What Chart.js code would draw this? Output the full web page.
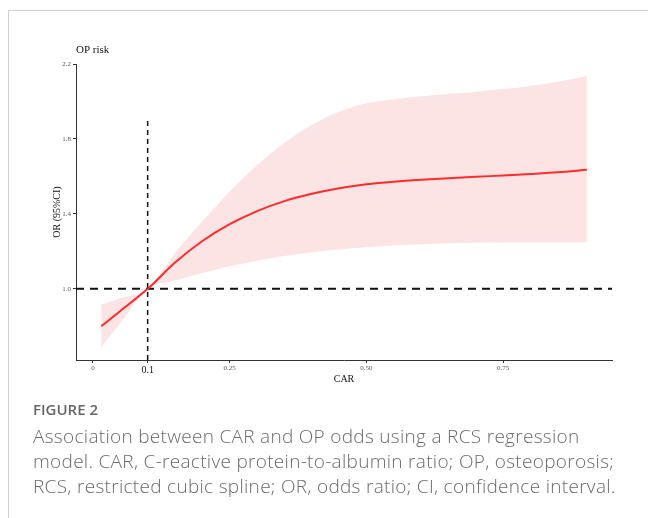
<!DOCTYPE html>
<html lang="en">
<head>
    <meta charset="UTF-8">
    <title>Figure 2 - RCS curve of CAR and OP risk</title>
    <script src="https://cdn.jsdelivr.net/npm/chart.js"></script>
    <style>
        body {
            margin: 0;
            padding: 0;
            background: white;
            width: 648px;
            height: 518px;
            overflow: hidden;
            position: relative;
        }
        .frame {
            position: absolute;
            left: 8px;
            top: 10px;
            width: 700px;
            height: 600px;
            border-left: 1px solid #cfcfcf;
            border-top: 1px solid #cfcfcf;
        }
        #rcsChart {
            position: absolute;
            left: 0;
            top: 0;
        }
        .caption {
            position: absolute;
            left: 33px;
            top: 398px;
            font-family: "Open Sans", sans-serif;
            color: #6a6a6a;
        }
        .caption .label {
            font-size: 15px;
            font-weight: 600;
            color: #666;
            line-height: 22px;
            margin-bottom: 4px;
        }
        .caption .text {
            font-size: 19px;
            letter-spacing: 0.3px;
            line-height: 25px;
            font-weight: 300;
            white-space: nowrap;
        }
    </style>
</head>
<body>
    <div class="frame"></div>
    <canvas id="rcsChart" width="648" height="400"></canvas>
    <div class="caption">
        <div class="label">FIGURE 2</div>
        <div class="text">Association between CAR and OP odds using a RCS regression<br>model. CAR, C-reactive protein-to-albumin ratio; OP, osteoporosis;<br>RCS, restricted cubic spline; OR, odds ratio; CI, confidence interval.</div>
    </div>

    <script>
        // values
        const carValues = [0.015, 0.05, 0.1, 0.15, 0.2, 0.25, 0.3, 0.35, 0.4, 0.45, 0.5, 0.55, 0.6, 0.65, 0.7, 0.75, 0.8, 0.85, 0.903];
        const orFit   = [0.80, 0.882, 1.0, 1.14, 1.255, 1.345, 1.415, 1.468, 1.507, 1.537, 1.558, 1.572, 1.582, 1.59, 1.598, 1.605, 1.613, 1.622, 1.635];
        const ciUpper = [0.915, 0.95, 1.0, 1.19, 1.36, 1.52, 1.66, 1.78, 1.875, 1.945, 1.99, 2.012, 2.028, 2.04, 2.052, 2.066, 2.083, 2.105, 2.136];
        const ciLower = [0.69, 0.818, 1.0, 1.045, 1.085, 1.12, 1.15, 1.175, 1.195, 1.21, 1.222, 1.231, 1.238, 1.243, 1.246, 1.248, 1.249, 1.249, 1.248];

        const xTicks = [0, 0.1, 0.25, 0.5, 0.75];
        const xTickLabels = ['0', '0.1', '0.25', '0.50', '0.75'];
        const yTicks = [1.0, 1.4, 1.8, 2.2];
        const yTickLabels = ['1.0', '1.4', '1.8', '2.2'];

        const xRange = [-0.031, 0.949];
        const yRange = [0.62, 2.2];
        const refCar = 0.1;
        const refOr = 1.0;
        const refCarTop = 1.9;

        const toPoints = (ys) => ys.map((y, i) => ({ x: carValues[i], y: y }));

        const serif = '"Liberation Serif", "DejaVu Serif", serif';

        const plotTitle = {
            id: 'plotTitle',
            afterDraw(chart) {
                const { ctx, chartArea } = chart;
                ctx.save();
                ctx.font = '11px ' + serif;
                ctx.fillStyle = '#111';
                ctx.textBaseline = 'middle';
                ctx.fillText('OP risk', chartArea.left, chartArea.top - 14);
                ctx.restore();
            }
        };

        const ctx = document.getElementById('rcsChart').getContext('2d');
        new Chart(ctx, {
            type: 'line',
            data: {
                datasets: [
                    {
                        data: toPoints(orFit),
                        borderColor: '#ff2b2b',
                        borderWidth: 2,
                        pointRadius: 0,
                        cubicInterpolationMode: 'monotone',
                        fill: false,
                        order: 0
                    },
                    {
                        data: [{ x: xRange[0], y: refOr }, { x: xRange[1], y: refOr }],
                        borderColor: '#111',
                        borderWidth: 2,
                        borderDash: [8, 6],
                        pointRadius: 0,
                        fill: false,
                        order: 1
                    },
                    {
                        data: [{ x: refCar, y: yRange[0] }, { x: refCar, y: refCarTop }],
                        borderColor: '#111',
                        borderWidth: 1.5,
                        borderDash: [5, 4],
                        pointRadius: 0,
                        fill: false,
                        order: 1
                    },
                    {
                        data: toPoints(ciUpper),
                        borderWidth: 0,
                        borderColor: 'rgba(0,0,0,0)',
                        backgroundColor: '#fde4e4',
                        pointRadius: 0,
                        cubicInterpolationMode: 'monotone',
                        fill: '+1',
                        order: 2
                    },
                    {
                        data: toPoints(ciLower),
                        borderWidth: 0,
                        borderColor: 'rgba(0,0,0,0)',
                        pointRadius: 0,
                        cubicInterpolationMode: 'monotone',
                        fill: false,
                        order: 3
                    }
                ]
            },
            options: {
                responsive: false,
                animation: false,
                layout: {
                    padding: { left: 0, right: 36, top: 64, bottom: 10 }
                },
                scales: {
                    x: {
                        type: 'linear',
                        min: xRange[0],
                        max: xRange[1],
                        afterBuildTicks(scale) {
                            scale.ticks = xTicks.map(v => ({ value: v }));
                        },
                        afterFit(scale) {
                            scale.height = 30;
                        },
                        grid: {
                            display: true,
                            drawOnChartArea: false,
                            drawTicks: true,
                            tickLength: 3,
                            color: '#333'
                        },
                        border: { display: true, color: '#333', width: 1 },
                        ticks: {
                            autoSkip: false,
                            maxRotation: 0,
                            padding: 1,
                            callback: (v) => xTickLabels[xTicks.indexOf(v)],
                            font: (c) => c.tick && c.tick.value === refCar
                                ? { family: serif, size: 10 }
                                : { family: serif, size: 7 },
                            color: (c) => c.tick && c.tick.value === refCar ? '#111' : '#555'
                        },
                        title: {
                            display: true,
                            text: 'CAR',
                            color: '#111',
                            font: { family: serif, size: 10 },
                            padding: { top: 0, bottom: 5 }
                        }
                    },
                    y: {
                        type: 'linear',
                        min: yRange[0],
                        max: yRange[1],
                        afterBuildTicks(scale) {
                            scale.ticks = yTicks.map(v => ({ value: v }));
                        },
                        afterFit(scale) {
                            scale.width = 76;
                        },
                        grid: {
                            display: true,
                            drawOnChartArea: false,
                            drawTicks: true,
                            tickLength: 3,
                            color: '#333'
                        },
                        border: { display: true, color: '#333', width: 1 },
                        ticks: {
                            padding: 2,
                            callback: (v) => yTickLabels[yTicks.indexOf(v)],
                            font: { family: serif, size: 7 },
                            color: '#555'
                        },
                        title: {
                            display: true,
                            text: 'OR (95%CI)',
                            color: '#111',
                            font: { family: serif, size: 10 },
                            padding: { top: 51, bottom: 0 }
                        }
                    }
                },
                plugins: {
                    legend: { display: false },
                    tooltip: { enabled: false }
                }
            },
            plugins: [plotTitle]
        });
    </script>
</body>
</html>
